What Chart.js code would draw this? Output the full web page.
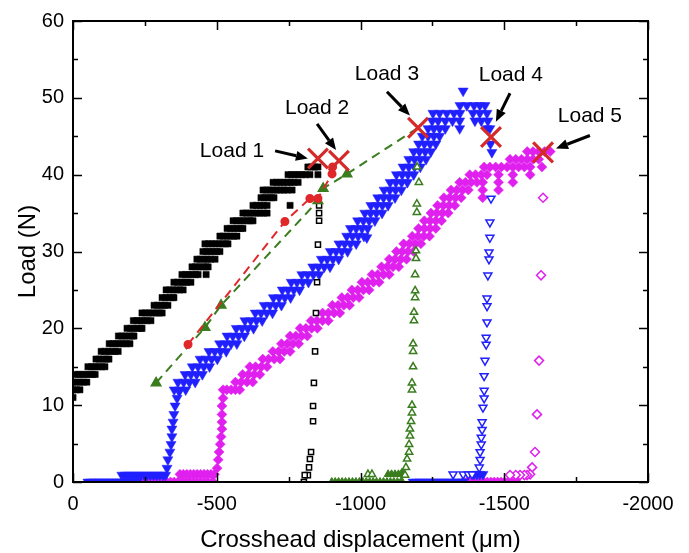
<!DOCTYPE html>
<html>
<head>
<meta charset="utf-8">
<script src="https://cdn.jsdelivr.net/npm/chart.js@4.4.1/dist/chart.umd.min.js"></script>
<style>
html,body{margin:0;padding:0;background:#fff;}
#wrap{width:689px;height:553px;}
</style>
</head>
<body>
<div id="wrap"><canvas id="c" width="689" height="553"></canvas></div>
<script>
// ---------------- data (x: crosshead displacement in µm, y: load in N) ----------------
const xTickValues = [0, -500, -1000, -1500, -2000];
const yTickValues = [0, 10, 20, 30, 40, 50, 60];

const blackLoading = [
 [0,11],
 [0,12],[-12,12],[-24,12],
 [0,13],[-12,13],[-24,13],[-36,13],[-48,13],
 [-8,14],[-20,14],[-32,14],[-44,14],[-56,14],[-68,14],[-77,14],
 [-52,15],[-64,15],[-76,15],[-88,15],[-100,15],[-111,15],
 [-80,16],[-92,16],[-104,16],[-116,16],[-125,16],
 [-98,17],[-110,17],[-122,17],[-134,17],[-146,17],[-157,17],
 [-126,18],[-138,18],[-150,18],[-162,18],[-174,18],[-186,18],[-198,18],
 [-158,19],[-170,19],[-182,19],[-194,19],[-206,19],[-212,19],
 [-188,20],[-200,20],[-212,20],[-224,20],[-236,20],[-240,20],
 [-210,21],[-222,21],[-234,21],[-246,21],[-258,21],[-271,21],
 [-240,22],[-252,22],[-264,22],[-276,22],[-288,22],[-300,22],[-310,22],
 [-282,23],[-294,23],[-306,23],[-318,23],[-330,23],
 [-310,24],[-322,24],[-334,24],[-346,24],[-351,24],
 [-324,25],[-336,25],[-348,25],[-360,25],[-372,25],[-383,25],
 [-351,26],[-363,26],[-375,26],[-387,26],[-397,26],[-410,26],
 [-379,27],[-391,27],[-403,27],[-415,27],[-427,27],[-435,27],[-463,27],
 [-414,28],[-426,28],[-438,28],[-450,28],[-462,28],[-470,28],
 [-431,29],[-443,29],[-455,29],[-467,29],[-479,29],[-494,29],
 [-452,30],[-464,30],[-476,30],[-488,30],[-500,30],[-511,30],
 [-459,31],[-471,31],[-483,31],[-495,31],[-507,31],[-519,31],[-531,31],[-539,31],
 [-511,32],[-523,32],[-535,32],[-547,32],[-559,32],[-570,32],
 [-536,33],[-548,33],[-560,33],[-572,33],[-584,33],[-591,33],
 [-557,34],[-569,34],[-581,34],[-593,34],[-605,34],[-617,34],[-626,34],
 [-591,35],[-603,35],[-615,35],[-627,35],[-639,35],[-651,35],[-663,35],[-675,35],
 [-626,36],[-638,36],[-650,36],[-662,36],[-675,36],[-755,36],
 [-654,37],[-666,37],[-678,37],[-690,37],[-699,37],
 [-661,38],[-673,38],[-685,38],[-697,38],[-709,38],[-721,38],[-733,38],[-745,38],[-762,38],
 [-696,39],[-708,39],[-720,39],[-732,39],[-744,39],[-756,39],[-768,39],[-783,39],
 [-748,40],[-760,40],[-772,40],[-784,40],[-796,40],[-808,40],[-824,40],[-852,40],
 [-817,41],[-829,41],[-841,41],[-852,41]
];
const blackUnloading = [
 [-856,36],[-856,35],[-856,34],[-852,30.9],[-849,26],[-845,22],[-842,17],[-838,12.9],
 [-835,9.9],[-835,7.9],[-828,3.9],[-824,3],[-821,1.9],[-817,0.9],[-806,0.9],[-803,0]
];
const redLoading = [[-400,17.9],[-737,33.9],[-824,36.9],[-852,36.9],[-901,40.1],[-903,41]];
const greenLoading = [[-289,12.9],[-459,20.1],[-515,23],[-852,36.6],[-870,38.2],[-953,40.1]];
const greenBase = [
 [-900,0],[-912,0],[-924,0],[-936,0],[-948,0],[-960,0],[-972,0],[-984,0],[-996,0],[-1008,0],
 [-1020,0],[-1032,0],[-1044,0],[-1056,0],[-1068,0],[-1080,0],[-1092,0],[-1104,0],[-1116,0],
 [-1128,0],[-1140,0],[-1145,0],
 [-1096,1],[-1108,1],[-1120,1],[-1132,1],[-1144,1.2],[-1152,1]
];
const greenUnloading = [
 [-1203,39],[-1197,41],[-1196,36.2],[-1196,35.1],[-1193,30.1],[-1193,29.1],[-1190,27],
 [-1190,24.9],[-1190,24],[-1186,22.1],[-1186,21],[-1183,18],[-1183,17],[-1183,15],
 [-1179,12.9],[-1179,12],[-1179,10],[-1179,9],[-1176,7.9],[-1172,6.9],[-1172,6],
 [-1169,4.9],[-1169,3.9],[-1162,3],[-1158,1.9],[-1155,0.9],[-1026,1],[-1040,1]
];
const blueLoading = [
 [-52,0],[-62,0],[-72,0],[-82,0],[-92,0],[-102,0],[-112,0],[-122,0],[-132,0],[-142,0],
 [-152,0],[-162,0],[-172,0],[-182,0],[-192,0],[-202,0],[-212,0],[-222,0],
 [-170,0.9],[-181,0.9],[-192,0.9],[-203,0.9],[-214,0.9],[-225,0.9],[-236,0.9],[-247,0.9],
 [-258,0.9],[-269,0.9],[-280,0.9],[-291,0.9],[-302,0.9],[-313,0.9],[-322,0.9],
 [-327,1.8],[-330,2.9],[-337,3.9],[-341,4.9],[-344,5.9],[-344,6.9],[-348,7.8],[-351,8.8],
 [-355,9.9],[-362,10.9],[-369,11.8],
 [-352,12],[-372,12],[-392,12],
 [-365,13],[-385,13],[-405,13],[-425,13],
 [-390,14],[-410,14],[-430,14],[-450,14],
 [-415,15],[-435,15],[-455,15],[-475,15],
 [-442,16],[-462,16],[-482,16],[-502,16],
 [-473,17],[-493,17],[-513,17],[-533,17],
 [-510,18],[-530,18],[-550,18],[-570,18],
 [-536,19],[-556,19],[-576,19],[-596,19],
 [-568,20],[-588,20],[-608,20],[-628,20],
 [-598,21],[-618,21],[-638,21],[-658,21],
 [-634,22],[-654,22],[-674,22],[-694,22],
 [-665,23],[-685,23],[-705,23],[-725,23],
 [-697,24],[-717,24],[-737,24],[-757,24],
 [-728,25],[-748,25],[-768,25],[-788,25],
 [-759,26],[-779,26],[-799,26],[-819,26],
 [-796,27],[-816,27],[-836,27],[-856,27],
 [-834,28],[-854,28],[-874,28],[-894,28],
 [-864,29],[-884,29],[-904,29],[-924,29],
 [-895,30],[-915,30],[-935,30],[-955,30],
 [-925,31],[-945,31],[-965,31],[-985,31],
 [-952,32],[-972,32],[-992,32],[-1012,32],
 [-965,33],[-985,33],[-1005,33],[-1025,33],
 [-990,34],[-1010,34],[-1030,34],[-1050,34],
 [-1015,35],[-1035,35],[-1055,35],[-1075,35],
 [-1036,36],[-1056,36],[-1076,36],[-1096,36],
 [-1060,37],[-1080,37],[-1100,37],[-1120,37],
 [-1082,38],[-1102,38],[-1122,38],[-1142,38],
 [-1103,39],[-1123,39],[-1143,39],[-1163,39],
 [-1125,40],[-1145,40],[-1165,40],[-1185,40],
 [-1148,41],[-1168,41],[-1188,41],[-1208,41],
 [-1168,42],[-1188,42],[-1208,42],[-1228,42],
 [-1185,43],[-1205,43],[-1225,43],[-1245,43],
 [-1202,44],[-1222,44],[-1242,44],[-1262,44],
 [-1215,45],[-1235,45],[-1255,45],[-1275,45],
 [-1235,46],[-1255,46],[-1275,46],[-1295,46],[-1440,46],[-1450,46],
 [-1249,47],[-1270,47],[-1295,47],[-1320,47],[-1398,47],[-1420,47],[-1443,47],
 [-1252,48],[-1275,48],[-1300,48],[-1325,48],[-1346,48],[-1391,48],[-1415,48],[-1440,48],
 [-1346,49],[-1370,49],[-1395,49],[-1415,49],[-1433,49],
 [-1357,50.9],[-1345,47],[-1345,46],[-1457,42.9],[-1452,44],[-1022,31.8],
 [-1183,0],[-1195,0],[-1207,0],[-1219,0],[-1231,0],[-1243,0],[-1255,0],[-1267,0],[-1279,0],
 [-1291,0],[-1303,0],[-1315,0],[-1327,0],[-1339,0],[-1351,0],[-1357,0],
 [-1395,1],[-1405,1],[-1415,1],[-1426,1]
];
const blueUnloading = [
 [-1454,36.9],[-1450,33.8],[-1450,31.8],[-1447,29.9],[-1447,29],[-1443,26.9],[-1440,23.9],
 [-1440,22.9],[-1440,20.8],[-1437,18.8],[-1437,17.9],[-1433,15.8],[-1430,13.8],[-1430,11.9],
 [-1430,10.9],[-1426,9.7],[-1423,7.8],[-1423,6.8],[-1420,5.8],[-1420,4.9],[-1416,3.9],
 [-1416,2.9],[-1413,1.9],[-1322,1],[-1357,1],[-1375,1],[-1388,1]
];
const magentaLoading = [
 [-222,0],[-235,0],[-248,0],[-261,0],[-274,0],[-287,0],[-300,0],[-313,0],[-326,0],[-339,0],
 [-352,0],[-365,0],[-378,0],[-391,0],[-404,0],[-417,0],[-430,0],[-443,0],[-456,0],[-469,0],[-487,0],
 [-372,1],[-384,1],[-396,1],[-408,1],[-420,1],[-432,1],[-444,1],[-456,1],[-468,1],[-480,1],[-492,1],
 [-501,1.8],[-505,2.9],[-508,3.9],[-512,4.9],[-515,5.9],[-518,6.9],[-518,7.8],[-518,8.8],
 [-518,9.9],[-522,10.9],[-522,12],
 [-535,12],[-550,12],[-565,12],[-580,12],
 [-565,13],[-585,13],[-605,13],[-625,13],
 [-590,14],[-610,14],[-630,14],[-650,14],
 [-615,15],[-635,15],[-655,15],[-675,15],
 [-660,16],[-680,16],[-700,16],[-720,16],
 [-695,17],[-715,17],[-735,17],[-755,17],
 [-725,18],[-745,18],[-765,18],[-785,18],
 [-755,19],[-775,19],[-795,19],[-815,19],
 [-790,20],[-810,20],[-830,20],[-850,20],
 [-828,21],[-848,21],[-868,21],[-888,21],
 [-868,22],[-888,22],[-908,22],[-928,22],
 [-902,23],[-922,23],[-942,23],[-962,23],
 [-935,24],[-955,24],[-975,24],[-995,24],
 [-970,25],[-990,25],[-1010,25],[-1030,25],
 [-1005,26],[-1025,26],[-1045,26],[-1065,26],
 [-1040,27],[-1060,27],[-1080,27],[-1100,27],
 [-1073,28],[-1093,28],[-1113,28],[-1133,28],
 [-1100,29],[-1120,29],[-1140,29],[-1160,29],
 [-1125,30],[-1145,30],[-1165,30],[-1185,30],
 [-1150,31],[-1170,31],[-1190,31],[-1210,31],
 [-1180,32],[-1200,32],[-1220,32],[-1240,32],
 [-1202,33],[-1222,33],[-1242,33],[-1262,33],
 [-1222,34],[-1242,34],[-1262,34],[-1282,34],
 [-1245,35],[-1265,35],[-1285,35],[-1305,35],
 [-1268,36],[-1288,36],[-1308,36],[-1328,36],
 [-1290,37],[-1310,37],[-1330,37],[-1350,37],[-1425,37],
 [-1315,38],[-1335,38],[-1355,38],[-1375,38],[-1425,38],[-1480,38],
 [-1345,39],[-1365,39],[-1385,39],[-1405,39],[-1425,39],[-1480,39],[-1530,39],
 [-1380,40],[-1400,40],[-1420,40],[-1440,40],[-1480,40],[-1530,40],[-1590,40],
 [-1430,41],[-1450,41],[-1470,41],[-1490,41],[-1510,41],[-1530,41],[-1550,41],[-1570,41],[-1590,41],[-1631,41],
 [-1520,42],[-1540,42],[-1560,42],[-1580,42],[-1600,42],[-1620,42],
 [-1580,43],[-1600,43],[-1620,43],[-1640,43],[-1660,43],
 [-1357,0],[-1369,0],[-1381,0],[-1393,0],[-1405,0],[-1417,0],[-1429,0],[-1441,0],[-1453,0],
 [-1465,0],[-1477,0],[-1489,0],[-1501,0],[-1513,0],[-1525,0],[-1537,0],[-1544,0]
];
const magentaUnloading = [
 [-1635,37],[-1628,26.9],[-1621,15.8],[-1614,8.8],[-1607,3.9],[-1597,1.9],[-1590,1],
 [-1579,0.9],[-1570,0.9],[-1555,0.9],[-1540,0.9],[-1520,0.9]
];
const peakLoads = [[-852,42.1],[-925,41.8],[-1200,46.1],[-1454,44.9],[-1635,42.9]];
const peakLabels = ['Load 1','Load 2','Load 3','Load 4','Load 5'];
const labelPos = [[-553,43.1],[-849,48.7],[-1092,53.1],[-1523,52.9],[-1798,47.6]];
const arrowTail = [[-703,43.1],[-849,46.6],[-1092,50.8],[-1520,50.6],[-1798,45.1]];
const arrowHead = [[-817,42.1],[-915,43.2],[-1172,47.7],[-1471,46.9],[-1680,43.4]];

// ---------------- colours ----------------
const BLACK='#000000', RED='#e0282a', XRED='#d42a2a', GREEN='#3a7d1e', BLUE='#2020ff', MAG='#e020ee';

const toPts = a => a.map(p => ({x:p[0], y:p[1]}));

const decor = {
  id:'decor',
  afterDatasetsDraw(chart){
    const ctx = chart.ctx, xs = chart.scales.x, ys = chart.scales.y, a = chart.chartArea;
    ctx.save();
    ctx.strokeStyle = '#000'; ctx.lineWidth = 1.5;
    for (let v = 0; v >= -2000; v -= 250){
      const px = Math.round(xs.getPixelForValue(v)) + 0.5;
      const len = (v % 500 === 0) ? 9 : 5;
      ctx.beginPath();
      ctx.moveTo(px, a.bottom); ctx.lineTo(px, a.bottom - len);
      ctx.moveTo(px, a.top); ctx.lineTo(px, a.top + len);
      ctx.stroke();
    }
    for (let v = 0; v <= 60; v += 5){
      const py = Math.round(ys.getPixelForValue(v)) + 0.5;
      const len = (v % 10 === 0) ? 9 : 5;
      ctx.beginPath();
      ctx.moveTo(a.left, py); ctx.lineTo(a.left + len, py);
      ctx.moveTo(a.right, py); ctx.lineTo(a.right - len, py);
      ctx.stroke();
    }
    ctx.lineWidth = 2;
    ctx.strokeRect(a.left, a.top, a.right - a.left, a.bottom - a.top);
    ctx.fillStyle = '#000';
    ctx.font = "21px 'Liberation Sans', Arial, sans-serif";
    ctx.textAlign = 'center'; ctx.textBaseline = 'middle';
    for (let i = 0; i < peakLabels.length; i++){
      ctx.fillText(peakLabels[i], xs.getPixelForValue(labelPos[i][0]), ys.getPixelForValue(labelPos[i][1]));
      const x1 = xs.getPixelForValue(arrowTail[i][0]), y1 = ys.getPixelForValue(arrowTail[i][1]);
      const x2 = xs.getPixelForValue(arrowHead[i][0]), y2 = ys.getPixelForValue(arrowHead[i][1]);
      const ang = Math.atan2(y2 - y1, x2 - x1);
      const hl = 12, hw = 5;
      const bx = x2 - hl*Math.cos(ang), by = y2 - hl*Math.sin(ang);
      ctx.lineWidth = 3;
      ctx.beginPath(); ctx.moveTo(x1, y1); ctx.lineTo(bx, by); ctx.stroke();
      ctx.beginPath();
      ctx.moveTo(x2, y2);
      ctx.lineTo(bx + hw*Math.sin(ang), by - hw*Math.cos(ang));
      ctx.lineTo(bx - hw*Math.sin(ang), by + hw*Math.cos(ang));
      ctx.closePath(); ctx.fill();
    }
    ctx.restore();
  }
};

Chart.defaults.font.family = "'Liberation Sans', Arial, sans-serif";
Chart.defaults.color = '#000';

const greenLine = toPts(greenLoading.concat([peakLoads[2]]));

new Chart(document.getElementById('c'), {
  type:'scatter',
  data:{ datasets:[
    {label:'peaks', data:toPts(peakLoads), pointStyle:'crossRot', pointRadius:14, pointBorderWidth:3.2,
      pointBorderColor:XRED, pointBackgroundColor:XRED, order:0, clip:false},
    {label:'red', data:toPts(redLoading), showLine:true, borderColor:RED, borderWidth:2, borderDash:[9,6],
      pointStyle:'circle', pointRadius:3.5, pointBackgroundColor:RED, pointBorderColor:RED, order:1},
    {label:'greenLine', data:greenLine, showLine:true, borderColor:GREEN, borderWidth:2, borderDash:[9,6],
      pointStyle:'triangle', pointRadius:c => c.dataIndex === greenLine.length - 1 ? 0 : 5,
      pointBackgroundColor:GREEN, pointBorderColor:GREEN, order:2},
    {label:'blackOpen', data:toPts(blackUnloading), pointStyle:'rect', pointRadius:3.6, pointBorderWidth:1.5,
      pointBackgroundColor:'#fff', pointBorderColor:BLACK, order:3, clip:0},
    {label:'black', data:toPts(blackLoading), pointStyle:'rect', pointRadius:4.4, pointBorderWidth:0.5,
      pointBackgroundColor:BLACK, pointBorderColor:BLACK, order:4, clip:0},
    {label:'greenOpen', data:toPts(greenUnloading), pointStyle:'triangle', pointRadius:4.2, pointBorderWidth:1.5,
      pointBackgroundColor:'#fff', pointBorderColor:GREEN, order:5, clip:0},
    {label:'greenBase', data:toPts(greenBase), pointStyle:'triangle', pointRadius:4.5, pointBorderWidth:1,
      pointBackgroundColor:GREEN, pointBorderColor:GREEN, order:6, clip:0},
    {label:'blueOpen', data:toPts(blueUnloading), pointStyle:'triangle', pointRotation:180, pointRadius:4.6, pointBorderWidth:1.5,
      pointBackgroundColor:'#fff', pointBorderColor:BLUE, order:7, clip:0},
    {label:'magOpen', data:toPts(magentaUnloading), pointStyle:'rectRot', pointRadius:4.5, pointBorderWidth:1.5,
      pointBackgroundColor:'#fff', pointBorderColor:MAG, order:8, clip:0},
    {label:'blue', data:toPts(blueLoading), pointStyle:'triangle', pointRotation:180, pointRadius:5.8, pointBorderWidth:0.5,
      pointBackgroundColor:BLUE, pointBorderColor:BLUE, order:9, clip:0},
    {label:'magenta', data:toPts(magentaLoading), pointStyle:'rectRot', pointRadius:5, pointBorderWidth:0.5,
      pointBackgroundColor:MAG, pointBorderColor:MAG, order:10, clip:0}
  ]},
  options:{
    responsive:false, animation:false, events:[],
    layout:{padding:{top:20, right:41, left:0, bottom:0}},
    plugins:{legend:{display:false}, tooltip:{enabled:false}},
    scales:{
      x:{type:'linear', min:-2000, max:0, reverse:true,
        afterBuildTicks:s => { s.ticks = xTickValues.map(v => ({value:v})); },
        afterFit:s => { s.height = 71; },
        grid:{display:false, drawTicks:false}, border:{display:false},
        ticks:{padding:10, font:{size:20}, color:'#000', callback:v => String(v), maxRotation:0, autoSkip:false},
        title:{display:true, text:'Crosshead displacement (\u03bcm)', font:{size:24, lineHeight:1}, color:'#000', padding:{top:0,bottom:1}}
      },
      y:{type:'linear', min:0, max:60,
        afterBuildTicks:s => { s.ticks = yTickValues.map(v => ({value:v})); },
        afterFit:s => { s.width = 73; },
        grid:{display:false, drawTicks:false}, border:{display:false},
        ticks:{padding:9, font:{size:20}, color:'#000', callback:v => String(v)},
        title:{display:true, text:'Load (N)', font:{size:24, lineHeight:1}, color:'#000', padding:{top:16,bottom:0}}
      }
    }
  },
  plugins:[decor]
});
</script>
</body>
</html>
